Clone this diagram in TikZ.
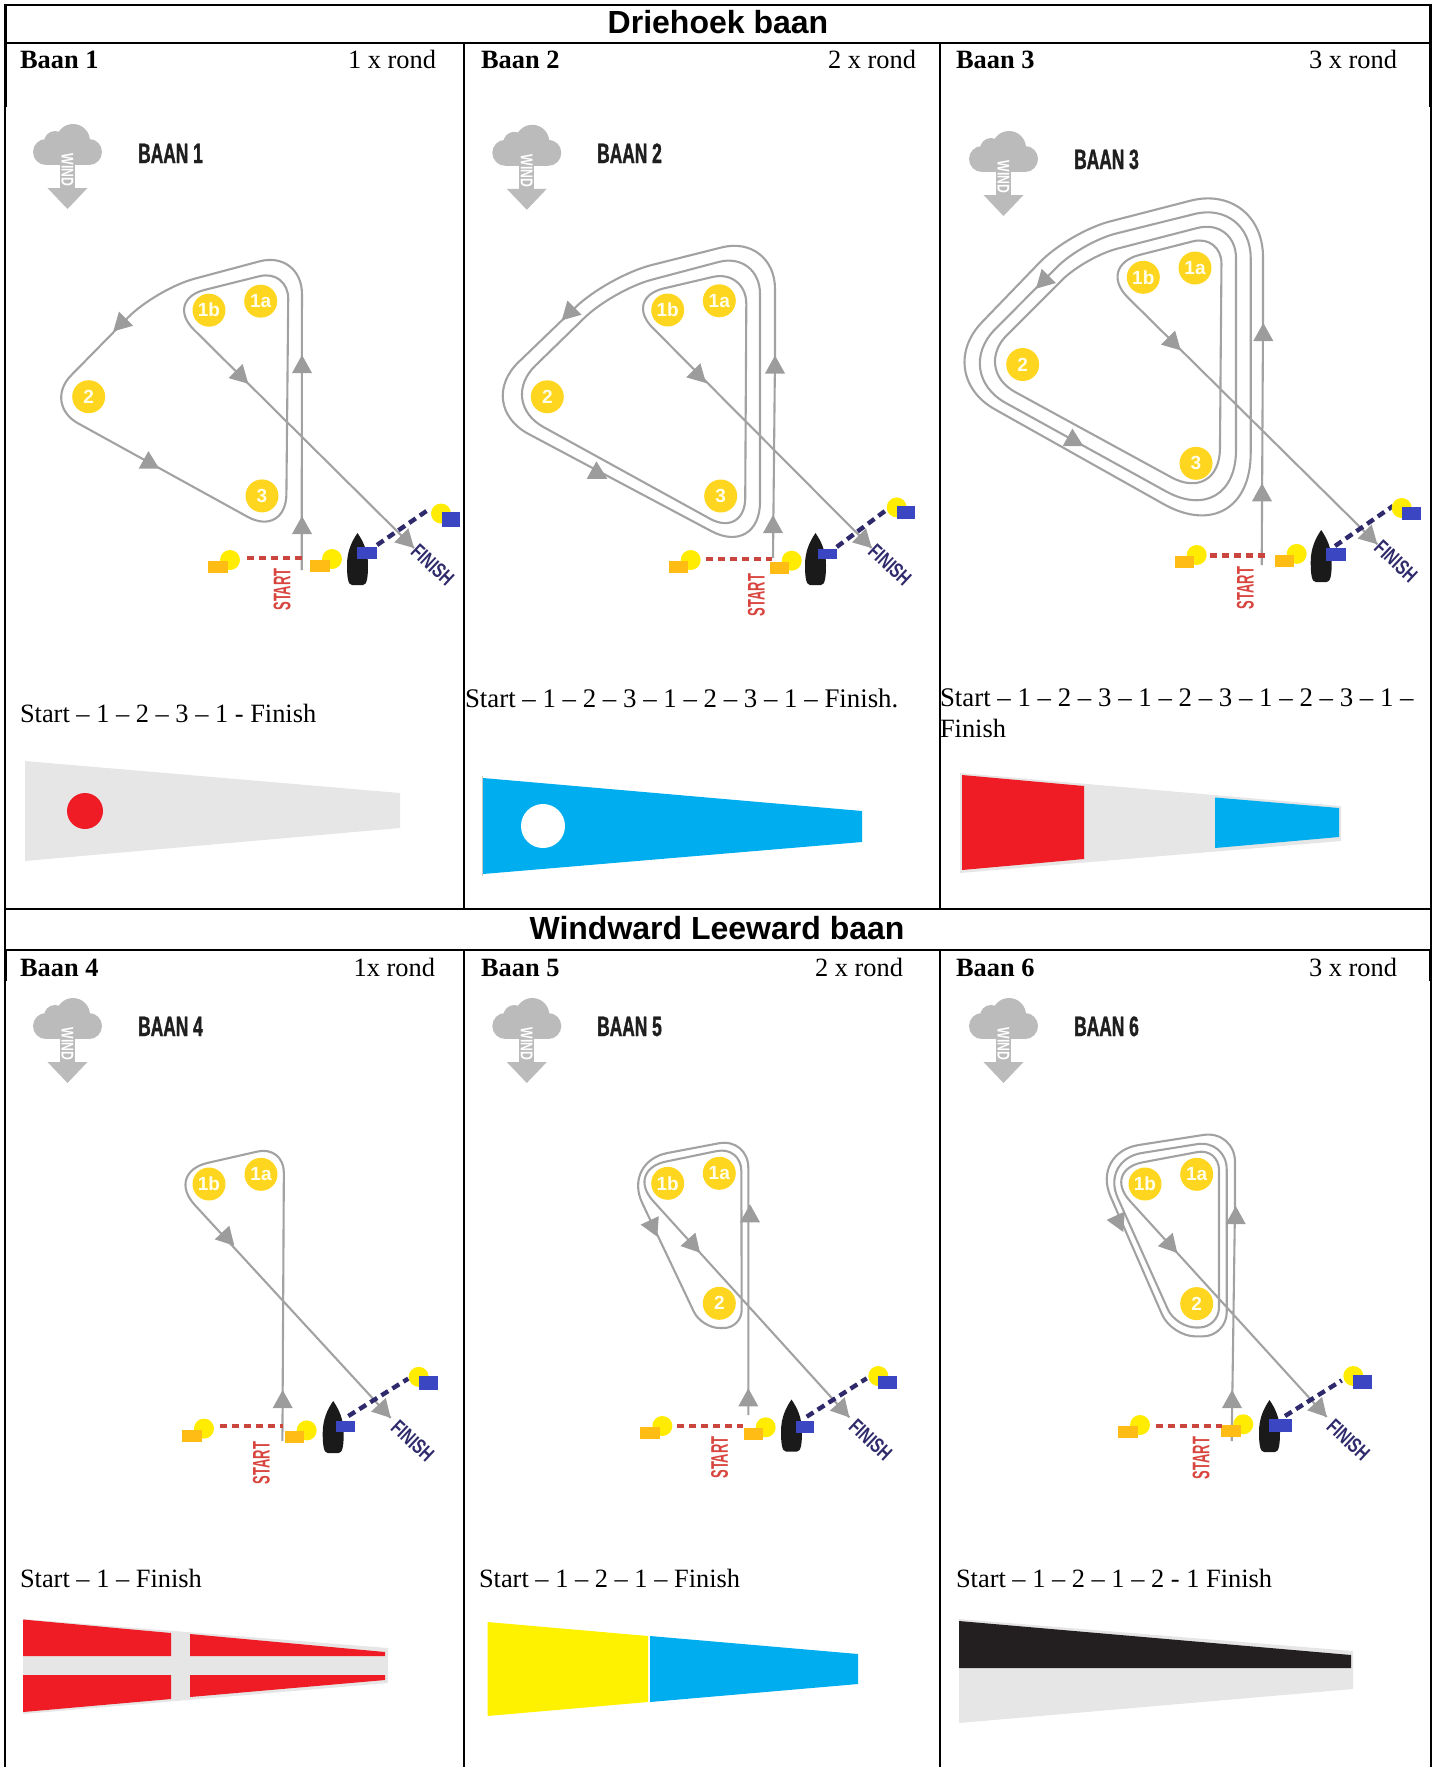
\documentclass[tikz,border=0pt]{standalone}
\usepackage{fontspec}
\setmainfont{Liberation Serif}
\newfontfamily\headfont{Liberation Sans}
\newfontfamily\titlefont[FakeStretch=0.62,FakeBold=1.2]{Liberation Sans}
\newfontfamily\windfont[FakeStretch=0.72]{Liberation Sans}
\newfontfamily\startfont[FakeStretch=0.54]{Liberation Sans}
\newfontfamily\finishfont[FakeStretch=0.72]{Liberation Sans}
\definecolor{trackgray}{HTML}{A2A2A2}
\definecolor{headgray}{HTML}{9C9C9C}
\definecolor{cloudgray}{HTML}{BBBBBB}
\definecolor{buoygold}{HTML}{FFD61F}
\definecolor{markyellow}{HTML}{FFEC00}
\definecolor{markorange}{HTML}{FFBC14}
\definecolor{markblue}{HTML}{3B47C2}
\definecolor{boatblack}{HTML}{1A1A1A}
\definecolor{navy}{HTML}{2F2A6B}
\definecolor{dotred}{HTML}{C9453E}
\definecolor{startred}{HTML}{D8453F}
\definecolor{flaggray}{HTML}{E6E6E6}
\definecolor{flagred}{HTML}{EF1C25}
\definecolor{flagblue}{HTML}{00AEEF}
\definecolor{flagyellow}{HTML}{FFF200}
\definecolor{flagblack}{HTML}{231F20}
\tikzset{
  gridline/.style={line width=2pt,black},
  gridband/.style={line width=2.8pt,black},
  track/.style={draw=trackgray,line width=2.1pt,line join=round},
  txt/.style={inner sep=0pt,outer sep=0pt,anchor=base west,text=black,font=\fontsize{26.4}{30}\selectfont},
  txtwide/.style={txt,font=\fontsize{26.85}{30}\selectfont},
  txtr/.style={txt,anchor=base east},
  txtb/.style={txt,font=\fontsize{26.4}{30}\selectfont\bfseries},
  headtxt/.style={inner sep=0pt,anchor=base,font=\headfont\bfseries\fontsize{32}{36}\selectfont},
  coursetitle/.style={inner sep=0pt,anchor=base west,text=black!88,font=\titlefont\bfseries\fontsize{28}{30}\selectfont},
  windtxt/.style={inner sep=0pt,rotate=-90,text=white,font=\windfont\bfseries\fontsize{17}{18}\selectfont},
  starttxt/.style={inner sep=0pt,rotate=90,text=startred,font=\startfont\bfseries\fontsize{24}{26}\selectfont},
  finishtxt/.style={inner sep=0pt,rotate=-43,text=navy,font=\finishfont\bfseries\fontsize{21}{23}\selectfont},
  buoy/.style={circle,fill=buoygold,minimum size=33pt,inner sep=0pt,text=white!92!yellow,font=\headfont\bfseries\fontsize{19}{20}\selectfont},
  reddots/.style={draw=dotred,line width=4.4pt,dash pattern=on 7pt off 5pt},
  navydots/.style={draw=navy,line width=4.4pt,dash pattern=on 8pt off 5pt},
}
% tip x, tip y, direction
\newcommand\ahead[3]{\fill[headgray,shift={(#1,#2)},rotate=#3] (0,0) -- (-18,10) -- (-18,-10) -- cycle;}
% name, cloud left, cloud top, title x, title baseline, title
\newcommand\windhead[6]{%
  \begin{scope}[shift={(#2,#3)}]
    \fill[cloudgray] (13,28) circle[radius=13] (56,28) circle[radius=13] (40,17) circle[radius=17] (22,18) circle[radius=11];
    \fill[cloudgray] (13,22) rectangle (56,41);
    \fill[cloudgray] (27,30) rectangle (42,65);
    \fill[cloudgray] (14.5,64) -- (54.5,64) -- (34.5,85) -- cycle;
    \node[windtxt] (#1wind) at (34.5,46) {WIND};
  \end{scope}
  \node[coursetitle] (#1title) at (#4,#5) {#6};}
% name, x, y, label
\newcommand\bmark[4]{\node[buoy] (#1) at (#2,#3) {#4};}
% left centre, right centre
\newcommand\startpair[4]{%
  \fill[markyellow] (#1,#2) circle[radius=10];
  \fill[markorange] (#1-22,#2+1) rectangle (#1-2.5,#2+13);
  \fill[markyellow] (#3,#4) circle[radius=10];
  \fill[markorange] (#3-22,#4+1) rectangle (#3-2.5,#4+13);}
% boat left, boat top
\newcommand\boat[2]{\fill[boatblack,shift={(#1,#2)}] (10.5,0) .. controls (5,8) and (0,18) .. (0,32) .. controls (0,44) and (1,52) .. (5,52) -- (16,52) .. controls (20,52) and (21,44) .. (21,32) .. controls (21,18) and (16,8) .. (10.5,0) -- cycle;}
% buoy centre, flag left, flag top, flag right, flag bottom
\newcommand\finishbuoy[6]{%
  \fill[markyellow] (#1,#2) circle[radius=10];
  \fill[markblue] (#3,#4) rectangle (#5,#6);}
\begin{document}
\begin{tikzpicture}[x=1pt,y=-1pt]
\useasboundingbox (0,0) rectangle (1433,1767);
% ---- table
\draw[gridline] (5.3,4.9) -- (1430.6,4.9) (5.3,43) -- (1430.6,43) (5.3,909) -- (1430.6,909) (5.3,950) -- (1430.6,950);
\draw[gridline] (5.3,3.9) -- (5.3,1767) (1430.6,3.9) -- (1430.6,1767);
\draw[gridline] (464,43) -- (464,909) (464,950) -- (464,1767) (940,43) -- (940,909) (940,950) -- (940,1767);
\draw[gridband] (5.3,3.9) -- (5.3,107) (464,43) -- (464,107) (940,43) -- (940,107) (1430.6,3.9) -- (1430.6,107);
\draw[gridband] (5.3,950) -- (5.3,981) (464,950) -- (464,981) (940,950) -- (940,981) (1430.6,950) -- (1430.6,981);
\node[headtxt] (head1) at (718,33) {Driehoek baan};
\node[headtxt] (head2) at (717,939) {Windward Leeward baan};
\node[txtb] (b1) at (20,68) {Baan 1};   \node[txtr] (r1) at (436,68) {1 x rond};
\node[txtb] (b2) at (481,68) {Baan 2};  \node[txtr] (r2) at (916,68) {2 x rond};
\node[txtb] (b3) at (956,68) {Baan 3};  \node[txtr] (r3) at (1397,68) {3 x rond};
\node[txtb] (b4) at (20,976) {Baan 4};  \node[txtr] (r4) at (435,976) {1x rond};
\node[txtb] (b5) at (481,976) {Baan 5}; \node[txtr] (r5) at (903,976) {2 x rond};
\node[txtb] (b6) at (956,976) {Baan 6}; \node[txtr] (r6) at (1397,976) {3 x rond};
\node[txt] (route1) at (20,722) {Start – 1 – 2 – 3 – 1 - Finish};
\node[txtwide] (route2) at (465,707.5) {Start – 1 – 2 – 3 – 1 – 2 – 3 – 1 – Finish.};
\node[txtwide] (route3a) at (940,706.5) {Start – 1 – 2 – 3 – 1 – 2 – 3 – 1 – 2 – 3 – 1 –};
\node[txt] (route3b) at (940,737) {Finish};
\node[txt] (route4) at (20,1587) {Start – 1 – Finish};
\node[txt] (route5) at (479,1587) {Start – 1 – 2 – 1 – Finish};
\node[txt] (route6) at (956,1587) {Start – 1 – 2 – 1 – 2 - 1 Finish};
% ---- Baan 1
\windhead{da}{33}{124}{138}{163}{BAAN 1}
\draw[track] (301.7,570) [rounded corners=44pt] -- (302,250) [rounded corners=40pt] -- (156,289) [rounded corners=40pt] -- (43,404) [rounded corners=44pt] -- (286,538) [rounded corners=30pt] -- (288.5,269) [rounded corners=42pt] -- (164,300) [sharp corners] -- (414,548);
\ahead{302}{355}{90}\ahead{302}{516}{90}\ahead{113.3}{331.4}{225}\ahead{159.3}{468.6}{-29}\ahead{248.3}{383.7}{-45}\ahead{414}{548}{-45}
\bmark{da1a}{260.7}{301.2}{1a}\bmark{da1b}{209}{310.2}{1b}\bmark{da2}{88.7}{396.7}{2}\bmark{da3}{262}{495.9}{3}
\startpair{230}{560}{332}{559}
\draw[reddots] (247,558) -- (305,558);
\node[starttxt] (dastart) at (282,589.5) {START};
\boat{347}{533}
\draw[navydots] (377,545) -- (428,510);
\fill[markblue] (357,547) rectangle (377,559);
\finishbuoy{441}{513.5}{442}{512}{460}{526.5}
\node[finishtxt] (dafin) at (432.7,565) {FINISH};
% ---- Baan 2
\windhead{db}{492.3}{124.8}{597}{163}{BAAN 2}
\draw[track] (773,558) -- (775,356) [rounded corners=55pt] -- (775,234) [rounded corners=45pt] -- (608,276) [rounded corners=62pt] -- (474,405) [rounded corners=55pt] -- (760,557) [rounded corners=43pt] -- (760,251) [rounded corners=40pt] -- (613,290) [rounded corners=52pt] -- (498,402) [rounded corners=40pt] -- (745,538) [rounded corners=35pt] -- (746.5,269) [rounded corners=42pt] -- (623,298) [sharp corners] -- (871.7,548);
\ahead{775}{355.5}{90}\ahead{773}{515}{90}\ahead{561.7}{320.4}{225}\ahead{607.3}{478.8}{-29}\ahead{706}{383}{-45}\ahead{871.7}{548}{-45}
\bmark{db1a}{719.3}{300.8}{1a}\bmark{db1b}{667.7}{310}{1b}\bmark{db2}{547.3}{396.8}{2}\bmark{db3}{720.7}{496}{3}
\startpair{690.7}{560}{791.7}{560.7}
\draw[reddots] (705.7,558.7) -- (771.7,558.7);
\node[starttxt] (dbstart) at (756.3,595) {START};
\boat{805}{533}
\draw[navydots] (836.7,547) -- (885,511);
\fill[markblue] (818,549) rectangle (837,559);
\finishbuoy{896.7}{507.4}{896.7}{505.6}{915}{519.4}
\node[finishtxt] (dbfin) at (890,565) {FINISH};
% ---- Baan 3
\windhead{dc}{969}{131}{1074}{169}{BAAN 3}
\draw[track] (1261.7,565) -- (1263,323) [rounded corners=75pt] -- (1263,182) [rounded corners=42pt] -- (1069,232) [rounded corners=72pt] -- (932,374) [rounded corners=100pt] -- (1250.7,553) [rounded corners=58pt] -- (1250.7,200) [rounded corners=35pt] -- (1082,242) [rounded corners=62pt] -- (951.5,373) [rounded corners=80pt] -- (1236,530) [rounded corners=40pt] -- (1236,218) [rounded corners=33pt] -- (1085,257) [rounded corners=48pt] -- (973,369) [rounded corners=55pt] -- (1219.5,503.6) [rounded corners=30pt] -- (1221.7,234) [rounded corners=45pt] -- (1096,266) [sharp corners] -- (1377.3,544.2);
\ahead{1263.3}{323}{90}\ahead{1262}{483.3}{90}\ahead{1036}{288.7}{225}\ahead{1083.3}{446}{-29}\ahead{1180.7}{350.3}{-45}\ahead{1377.3}{544.2}{-45}
\bmark{dc1a}{1195}{268}{1a}\bmark{dc1b}{1143.3}{277.3}{1b}\bmark{dc2}{1022.7}{364.5}{2}\bmark{dc3}{1196}{463.3}{3}
\startpair{1196.7}{555}{1296.7}{553.9}
\draw[reddots] (1210,555.6) -- (1268,555.6);
\node[starttxt] (dcstart) at (1245.3,588) {START};
\boat{1310.7}{530}
\draw[navydots] (1335,546) -- (1393,506);
\fill[markblue] (1326,548.3) rectangle (1346,561.4);
\finishbuoy{1401.7}{508}{1402.3}{507}{1421}{520}
\node[finishtxt] (dcfin) at (1396,561.4) {FINISH};
% ---- Baan 4
\windhead{dd}{33}{998}{138}{1036}{BAAN 4}
\draw[track] (282.4,1441) [rounded corners=27pt] -- (284,1145.5) [rounded corners=44pt] -- (165,1172.6) [sharp corners] -- (390.7,1417.9);
\ahead{282.7}{1390}{90}\ahead{234.3}{1245.7}{-47}\ahead{390.7}{1417.9}{-47}
\bmark{dd1a}{261}{1174.3}{1a}\bmark{dd1b}{209}{1184}{1b}
\startpair{204}{1428.6}{306.7}{1430.4}
\draw[reddots] (220,1426) -- (283.3,1426);
\node[starttxt] (ddstart) at (261.3,1463) {START};
\boat{322.7}{1401}
\draw[navydots] (348.3,1416) -- (408.3,1378.6);
\fill[markblue] (336,1421.4) rectangle (355,1432);
\finishbuoy{418.7}{1376.8}{419.3}{1376}{438.3}{1390}
\node[finishtxt] (ddfin) at (412.7,1441) {FINISH};
% ---- Baan 5
\windhead{de}{492.3}{998}{597}{1036}{BAAN 5}
\draw[track] (748.3,1415) [rounded corners=30pt] -- (748.3,1137.7) [rounded corners=46pt] -- (622.5,1161.5) [rounded corners=18pt] -- (701.6,1328) -- (741.7,1328) [rounded corners=25pt] -- (741.3,1146) [rounded corners=42pt] -- (625,1170) [sharp corners] -- (849.3,1417.3);
\ahead{750}{1204.3}{90}\ahead{748.3}{1388.3}{90}\ahead{657.3}{1236.7}{-65}\ahead{700}{1252.7}{-48}\ahead{849.3}{1417.3}{-48}
\bmark{de1a}{719.3}{1173.3}{1a}\bmark{de1b}{667.7}{1183.3}{1b}\bmark{de2}{719.3}{1303.3}{2}
\startpair{662.3}{1426}{765.7}{1427.3}
\draw[reddots] (677.3,1425.7) -- (743.3,1425.7);
\node[starttxt] (destart) at (719.7,1457.5) {START};
\boat{781}{1399.5}
\draw[navydots] (806.7,1416.7) -- (866.7,1378.3);
\fill[markblue] (795.7,1421) rectangle (814,1433.3);
\finishbuoy{878.3}{1376}{878.3}{1375.7}{897.3}{1389}
\node[finishtxt] (defin) at (870.7,1440) {FINISH};
% ---- Baan 6
\windhead{df}{969}{998}{1074}{1036}{BAAN 6}
\draw[track] (1231.7,1441) -- (1235,1206) [rounded corners=32pt] -- (1235,1130) [rounded corners=48pt] -- (1091.3,1152.4) [rounded corners=24pt] -- (1171.6,1336.4) -- (1226.7,1336.4) [rounded corners=30pt] -- (1226.7,1139.4) [rounded corners=42pt] -- (1100.5,1159.6) [rounded corners=20pt] -- (1176,1327.5) -- (1219,1327.5) [rounded corners=22pt] -- (1219,1148) [rounded corners=42pt] -- (1101.7,1170) [sharp corners] -- (1326.7,1417);
\ahead{1235.7}{1206}{90}\ahead{1232}{1390}{90}\ahead{1123.3}{1232}{-65}\ahead{1177.3}{1252.9}{-48}\ahead{1326.7}{1417}{-48}
\bmark{df1a}{1196.7}{1174.3}{1a}\bmark{df1b}{1145}{1184}{1b}\bmark{df2}{1196.7}{1303.6}{2}
\startpair{1140}{1425}{1243.3}{1424.3}
\draw[reddots] (1155.7,1425.7) -- (1221.7,1425.7);
\node[starttxt] (dfstart) at (1201,1458) {START};
\boat{1259}{1400}
\draw[navydots] (1285,1416) -- (1341.7,1380.4);
\fill[markblue] (1269,1418.6) rectangle (1291.7,1432);
\finishbuoy{1353.3}{1376}{1353.3}{1375}{1371.7}{1388.6}
\node[finishtxt] (dffin) at (1348.3,1440) {FINISH};
% ---- flags
\fill[flaggray] (25,761) -- (400,793) -- (400,828) -- (25,861) -- cycle;
\fill[flagred] (85,811) circle[radius=18];
\draw[trackgray!60,line width=1pt] (482,776) -- (482,876);
\fill[flagblue] (483,778) -- (862,811) -- (862,842) -- (483,874) -- cycle;
\fill[white] (543,826) circle[radius=22];
\fill[flaggray] (960,773) -- (1341,806) -- (1341,841) -- (960,873) -- cycle;
\fill[flagred] (962,775) -- (1084,786) -- (1084,859) -- (962,870) -- cycle;
\fill[flagblue] (1215,797.5) -- (1339,808) -- (1339,837) -- (1215,848) -- cycle;
\fill[flaggray] (23,1619) -- (388,1648) -- (388,1683) -- (23,1714) -- cycle;
\fill[flagred] (23,1619.5) -- (171,1633) -- (171,1656) -- (23,1656) -- cycle;
\fill[flagred] (190,1634) -- (385,1652) -- (385,1656) -- (190,1656) -- cycle;
\fill[flagred] (23,1675) -- (171,1675) -- (171,1699) -- (23,1712) -- cycle;
\fill[flagred] (190,1675) -- (385,1675) -- (385,1680) -- (190,1697) -- cycle;
\fill[flagyellow] (487.5,1622) -- (648,1636) -- (648,1702) -- (487.5,1716) -- cycle;
\fill[flagblue] (650,1636) -- (858,1654) -- (858,1684) -- (650,1702) -- cycle;
\fill[flaggray] (959,1619) -- (1353,1651) -- (1353,1689) -- (959,1723) -- cycle;
\fill[flagblack] (959,1621) -- (1351,1655) -- (1351,1668) -- (959,1668) -- cycle;
\end{tikzpicture}
\end{document}
